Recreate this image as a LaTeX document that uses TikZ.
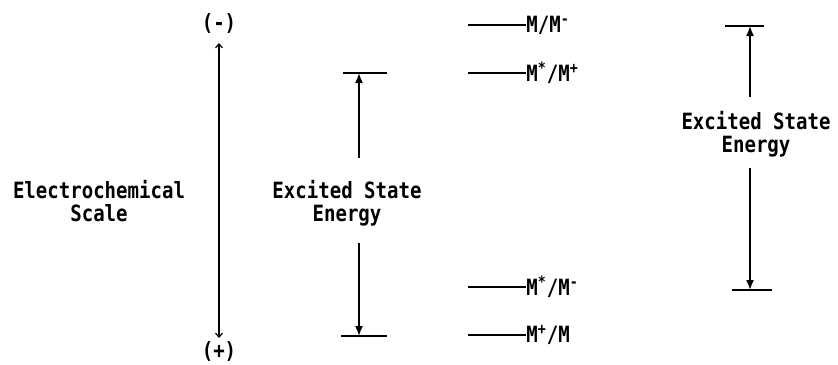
\documentclass[tikz,border=0pt]{standalone}
\usepackage{fontspec}
\setmonofont[FakeStretch=0.85]{DejaVu Sans Mono}
\usetikzlibrary{arrows.meta}

\begin{document}
\begin{tikzpicture}[x=0.5pt,y=-0.5pt,
    font=\ttfamily\bfseries\fontsize{11.2}{11.5}\selectfont,
    lbl/.style={align=center,inner sep=1pt},
    lvlab/.style={anchor=west,inner sep=0pt},
    lvl/.style={line width=0.9pt},
    bar/.style={line width=1pt},
    ar/.style={-{Latex[length=5pt,width=4pt]},line width=0.8pt},
    scl/.style={{Straight Barb[length=2pt,width=3.5pt]}-{Straight Barb[length=2pt,width=3.5pt]},
                line width=0.6pt}]

  \useasboundingbox (0,0) rectangle (838,364);

  % electrochemical scale
  \node[lbl] (neg) at (219,23) {(-)};
  \node[lbl,inner sep=0pt] (pos) at (219,351) {(+)};
  \coordinate (stop) at (219,43);
  \coordinate (sbot) at (219,338);
  \draw[scl] (stop) -- (sbot);
  \node[lbl] (scale) at (99,201) {Electrochemical\\Scale};

  % excited state energy, M*/M+ to M+/M
  \node[lbl] (ese1) at (347,203) {Excited State\\Energy};
  \coordinate (b1l) at (343,73);
  \coordinate (b1r) at (387,73);
  \coordinate (b2l) at (341,336);
  \coordinate (b2r) at (387,336);
  \draw[bar] (b1l) -- (b1r);
  \draw[bar] (b2l) -- (b2r);
  \coordinate (e1t) at (359,158);
  \coordinate (e1b) at (359,243);
  \draw[ar] (e1t) -- (e1t |- b1l);
  \draw[ar] (e1b) -- (e1b |- b2l);

  % redox levels
  \node[lvlab] (mA) at (526,25)  {M/M\textsuperscript{-}};
  \node[lvlab] (mB) at (526,73)  {M\textsuperscript{*}/M\textsuperscript{+}};
  \node[lvlab] (mC) at (526,287) {M\textsuperscript{*}/M\textsuperscript{-}};
  \node[lvlab] (mD) at (526,335) {M\textsuperscript{+}/M};
  \foreach \m in {mA,mB,mC,mD}
    \draw[lvl] (\m.west) -- ++(-58,0);

  % excited state energy, M/M- to M*/M-
  \node[lbl] (ese2) at (756,134) {Excited State\\Energy};
  \coordinate (b3l) at (725,26);
  \coordinate (b3r) at (764,26);
  \coordinate (b4l) at (732,290);
  \coordinate (b4r) at (772,290);
  \draw[bar] (b3l) -- (b3r);
  \draw[bar] (b4l) -- (b4r);
  \coordinate (e2t) at (750,97);
  \coordinate (e2b) at (750,168);
  \draw[ar] (e2t) -- (e2t |- b3l);
  \draw[ar] (e2b) -- (e2b |- b4l);
\end{tikzpicture}
\end{document}
